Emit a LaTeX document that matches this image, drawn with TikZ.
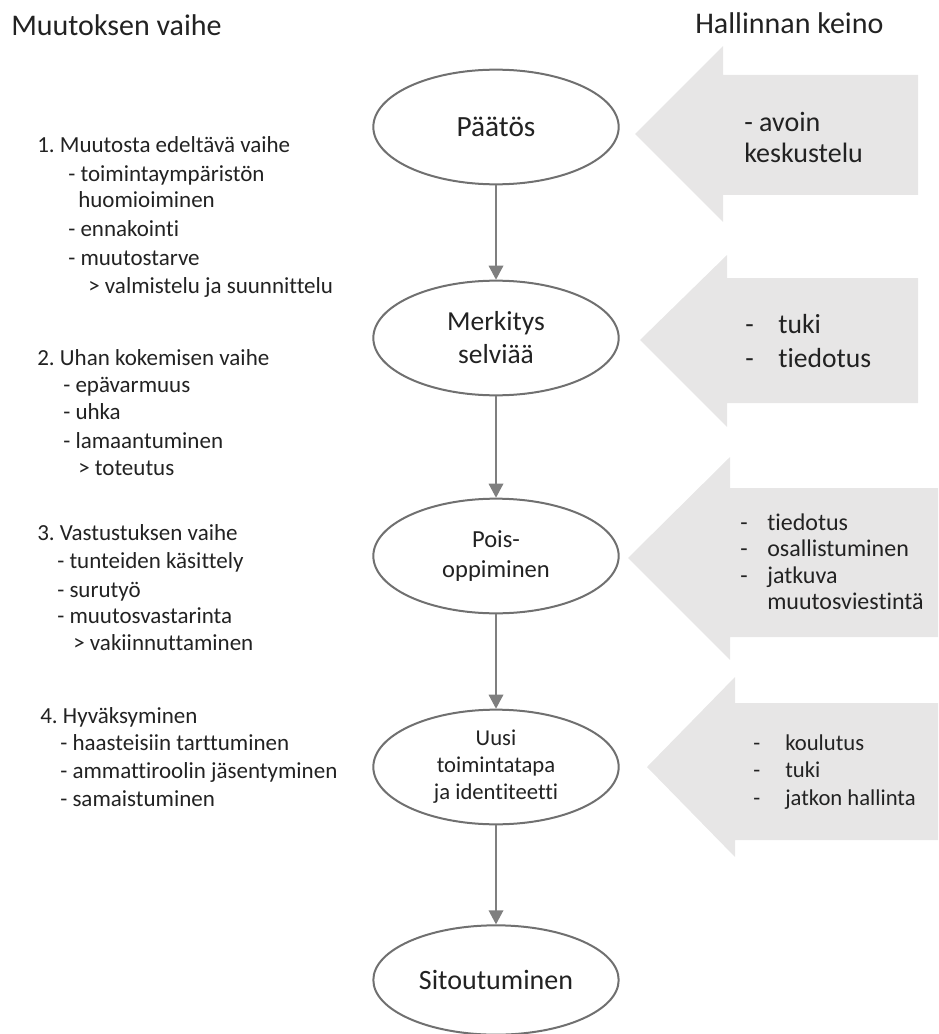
\documentclass[tikz,border=0pt]{standalone}
\usepackage{fontspec}
\setmainfont{Carlito}[Ligatures={NoCommon}]
\usetikzlibrary{arrows.meta,shapes.geometric}
\definecolor{txt}{HTML}{222222}
\definecolor{ellline}{HTML}{707070}
\definecolor{connline}{HTML}{7F7F7F}
\definecolor{bigarrow}{HTML}{E7E6E6}
\tikzset{
  lt/.style={inner sep=0pt, anchor=base west, text=txt, font=\fontsize{17.25}{21}\selectfont},
  head/.style={inner sep=0pt, text=txt, font=\fontsize{22.5}{27}\selectfont},
  stage/.style={ellipse, draw=ellline, line width=1.5pt, fill=white, inner sep=0pt,
     minimum width=184pt, minimum height=86pt, align=center, text=txt},
  conn/.style={draw=connline, line width=1pt, -{Triangle[width=11pt,length=10.5pt]}},
  at1/.style={inner sep=0pt, anchor=base west, text=txt, font=\fontsize{21}{24}\selectfont},
  at2/.style={inner sep=0pt, anchor=base west, text=txt, font=\fontsize{20.7}{24}\selectfont},
  at3/.style={inner sep=0pt, anchor=base west, text=txt, font=\fontsize{18}{20}\selectfont},
  at4/.style={inner sep=0pt, anchor=base west, text=txt, font=\fontsize{17}{20}\selectfont},
}
\frenchspacing
\begin{document}
\begin{tikzpicture}[x=0.75pt,y=-0.75pt]
\useasboundingbox (0,0) rectangle (938,1034);

% headings
\node[head, anchor=base west] (h1) at (11,36) {Muutoksen vaihe};
\node[head, anchor=base west] (h2) at (695,34) {Hallinnan keino};

% big gray arrows
\fill[bigarrow] (635,134) -- (723,46) -- (723,75) -- (918,75) -- (918,195) -- (723,195) -- (723,222) -- cycle;
\fill[bigarrow] (640,340) -- (727,255) -- (727,278) -- (918,278) -- (918,403) -- (727,403) -- (727,427) -- cycle;
\fill[bigarrow] (628,558) -- (730,457) -- (730,488) -- (938,488) -- (938,637) -- (730,637) -- (730,660) -- cycle;
\fill[bigarrow] (647,767) -- (735,677) -- (735,703) -- (938,703) -- (938,840) -- (735,840) -- (735,857) -- cycle;

% arrow texts
\node[at1] (a1a) at (744,132) {- avoin};
\node[at1] (a1b) at (744,163) {keskustelu};

\node[at2] (a2d1) at (745,333) {-};
\node[at2] (a2a) at (778,333) {tuki};
\node[at2] (a2d2) at (745,367) {-};
\node[at2] (a2b) at (778,367) {tiedotus};

\node[at3] (a3d1) at (740,530) {-};
\node[at3] (a3a) at (767,530) {tiedotus};
\node[at3] (a3d2) at (740,556.5) {-};
\node[at3] (a3b) at (767,556.5) {osallistuminen};
\node[at3] (a3d3) at (740,583) {-};
\node[at3] (a3c) at (767,583) {jatkuva};
\node[at3] (a3e) at (767,609.5) {muutosviestintä};

\node[at4] (a4d1) at (753,750) {-};
\node[at4] (a4a) at (785,750) {koulutus};
\node[at4] (a4d2) at (753,777) {-};
\node[at4] (a4b) at (785,777) {tuki};
\node[at4] (a4d3) at (753,805) {-};
\node[at4] (a4c) at (785,805) {jatkon hallinta};

% stage ellipses
\node[stage, font=\fontsize{22}{26}\selectfont] (p) at (496,127) {Päätös};
\node[stage, font=\fontsize{20.6}{24.75}\selectfont] (m) at (496,338) {Merkitys\\selviää};
\node[stage, font=\fontsize{18.4}{22.5}\selectfont] (o) at (496,556) {Pois-\\oppiminen};
\node[stage, font=\fontsize{17}{20.25}\selectfont] (u) at (496,767) {Uusi\\toimintatapa\\ja identiteetti};
\node[stage, font=\fontsize{21}{25}\selectfont, minimum height=82pt] (s) at (496,980) {Sitoutuminen};

\draw[conn] (p.south) -- (m.north);
\draw[conn] (m.south) -- (o.north);
\draw[conn] (o.south) -- (u.north);
\draw[conn] (u.south) -- (s.north);

% left texts
\node[lt] (l1) at (37,153) {1. Muutosta edeltävä vaihe};
\node[lt] (l2) at (68,182) {- toimintaympäristön};
\node[lt] (l3) at (78,208) {huomioiminen};
\node[lt] (l4) at (68,237) {- ennakointi};
\node[lt] (l5) at (68,265) {- muutostarve};
\node[lt] (l6) at (88,293) {> valmistelu ja suunnittelu};

\node[lt] (l7) at (37,365) {2. Uhan kokemisen vaihe};
\node[lt] (l8) at (63,392) {- epävarmuus};
\node[lt] (l9) at (63,419) {- uhka};
\node[lt] (l10) at (63,448) {- lamaantuminen};
\node[lt] (l11) at (78,475) {> toteutus};

\node[lt] (l12) at (37,540) {3. Vastustuksen vaihe};
\node[lt] (l13) at (57,568) {- tunteiden käsittely};
\node[lt] (l14) at (57,597) {- surutyö};
\node[lt] (l15) at (57,623) {- muutosvastarinta};
\node[lt] (l16) at (73,650) {> vakiinnuttaminen};

\node[lt] (l17) at (40,723) {4. Hyväksyminen};
\node[lt] (l18) at (60,750) {- haasteisiin tarttuminen};
\node[lt] (l19) at (60,778) {- ammattiroolin jäsentyminen};
\node[lt] (l20) at (60,806) {- samaistuminen};
\end{tikzpicture}
\end{document}
